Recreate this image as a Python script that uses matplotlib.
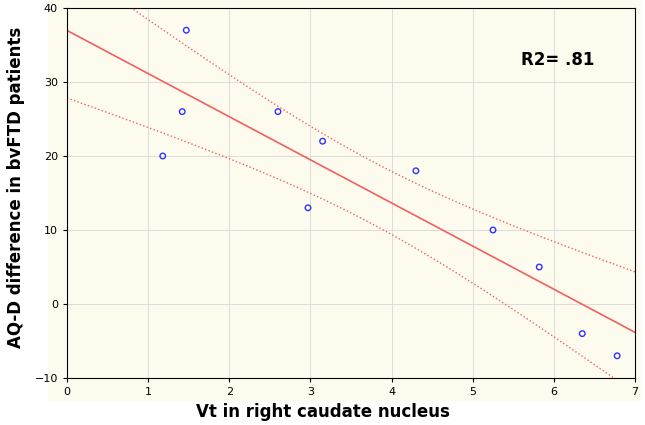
import numpy as np
import matplotlib.pyplot as plt

# points
vt = [1.18, 1.42, 1.47, 2.60, 2.97, 3.15, 4.30, 5.25, 5.82, 6.35, 6.78]
aqd = [20, 26, 37, 26, 13, 22, 18, 10, 5, -4, -7]

x_ticks = [0, 1, 2, 3, 4, 5, 6, 7]
y_ticks = [-10, 0, 10, 20, 30, 40]

x = np.array(vt)
y = np.array(aqd)
slope, intercept = np.polyfit(x, y, 1)
n = len(x)
resid = y - (intercept + slope * x)
s = np.sqrt((resid ** 2).sum() / (n - 2))
xx = np.linspace(0, 7, 200)
fit = intercept + slope * xx
se = s * np.sqrt(1 / n + (xx - x.mean()) ** 2 / ((x - x.mean()) ** 2).sum())
t = 2.262  # t(0.975, 9)

fig = plt.figure(figsize=(6.45, 4.25), dpi=100)
fig.patches.append(plt.Rectangle((48 / 645, 25 / 425), 592 / 645, 400 / 425,
                                 transform=fig.transFigure, color="#fdfbee", zorder=-5))
ax = fig.add_axes([67 / 645, 47 / 425, 568 / 645, 370 / 425])
ax.set_zorder(2)
ax.set_facecolor("#fdfbee")
ax.plot(xx, fit, color="#f06060", lw=1.2)
ax.plot(xx, fit + t * se, color="#f06060", lw=1.0, ls=":")
ax.plot(xx, fit - t * se, color="#f06060", lw=1.0, ls=":")
ax.scatter(vt, aqd, s=16, facecolors="none", edgecolors="#3030ff", lw=1, zorder=3)
ax.set_xlim(0, 7)
ax.set_ylim(-10, 40)
ax.set_xticks(x_ticks)
ax.set_yticks(y_ticks)
ax.tick_params(labelsize=8, length=3)
ax.grid(True, color="#d8d8d8", lw=0.6)
ax.set_axisbelow(True)
ax.text(6.05, 33, "R2= .81", fontsize=12, fontweight="bold", ha="center", va="center")
fig.text(0.5, 0.03, "Vt in right caudate nucleus", fontsize=12, fontweight="bold",
         ha="center", va="center")
fig.text(0.025, 0.56, "AQ-D difference in bvFTD patients", fontsize=12, fontweight="bold",
         rotation=90, ha="center", va="center")
fig.savefig("out.png", dpi=100)
